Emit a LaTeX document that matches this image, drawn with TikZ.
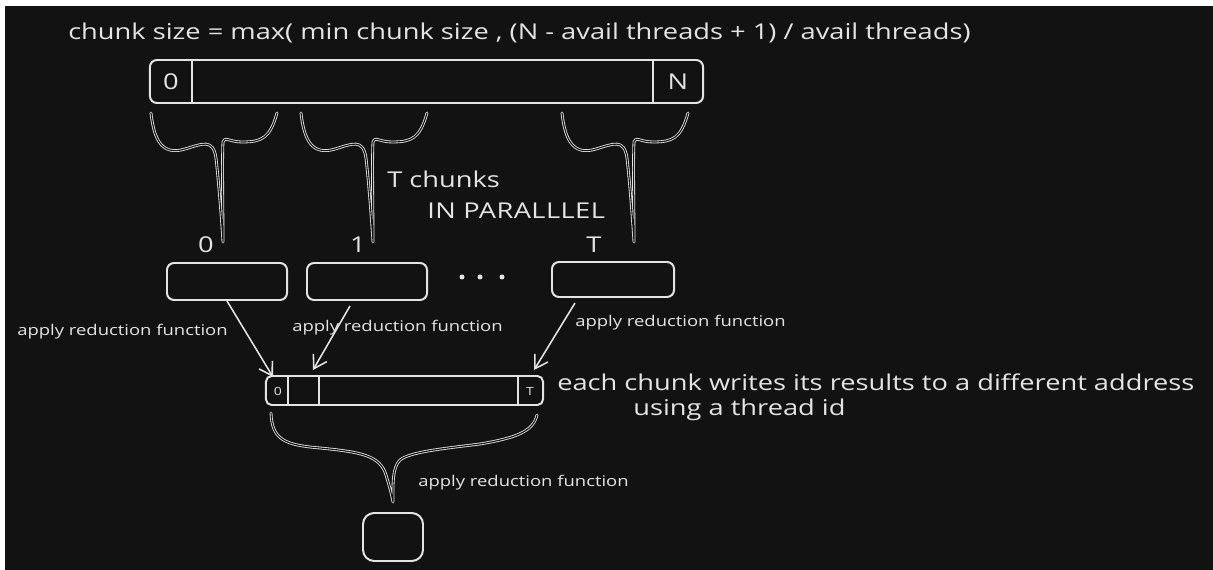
\documentclass[tikz,border=0pt]{standalone}
\usepackage{fontspec}
\setmainfont{Open Sans}[FakeStretch=1.25]
\usetikzlibrary{arrows.meta,calc,positioning}
\definecolor{board}{RGB}{18,18,18}
\definecolor{chalk}{RGB}{228,228,228}
\tikzset{
  cell/.style={draw=chalk, line width=1.4pt, rounded corners=5pt, inner sep=0pt},
  tee/.style={draw=chalk, line width=0.6pt, double=board, double distance=0.8pt, line cap=round, line join=round},
  feed/.style={draw=chalk, line width=1.1pt, -{Straight Barb[length=9pt,width=11pt]}},
  note/.style={text=chalk, anchor=base west, inner sep=0pt},
  tiny/.style={note, font=\fontsize{10.5}{12}\selectfont}
}

\begin{document}
\begin{tikzpicture}[x=0.025cm, y=-0.025cm, font=\fontsize{15.5}{18}\selectfont]
  % sheet, thin white edge at top and left
  \fill[white] (0,0) rectangle (1213,570);
  \fill[board] (5,6) rectangle (1213,570);
  \useasboundingbox (0,0) rectangle (1213,570);

  % formula
  \node[note] (title) at (68,40) {chunk size = max( min chunk size , (N - avail threads + 1) / avail threads)};

  % input array
  \node[cell, minimum width=13.825cm, minimum height=1.075cm] (arr) at (426.5,81.5) {};
  \draw[chalk, line width=1pt] (192,60) -- (192,103) (653,60) -- (653,103);
  \node[text=chalk] (arr0) at (171,82) {0};
  \node[text=chalk] (arrN) at (678,82) {N};

  % braces splitting the array
  \foreach \s in {0,150,411}
    \draw[tee, shift={(\s,0)}] (151,113) .. controls (154,140) and (162,156) .. (185,149)
      .. controls (202,144) and (213,138) .. (216,158)
      .. controls (219,185) and (222,225) .. (223,242)
      .. controls (223,210) and (222,160) .. (223,142)
      .. controls (224,136) and (230,142) .. (242,142)
      .. controls (262,142) and (270,138) .. (277,113);
  \node[note] (tchunks) at (387,188) {T chunks};
  \node[note] (par) at (427,219) {\addfontfeatures{LetterSpace=2}IN PARALLLEL};

  % chunks
  \node[text=chalk] (n0) at (206,245) {0};
  \node[text=chalk] (n1) at (358,245) {1};
  \node[text=chalk] (nT) at (594,245) {T};
  \node[cell, minimum width=3cm, minimum height=0.925cm] (c0) at (227,281.5) {};
  \node[cell, minimum width=3cm, minimum height=0.925cm] (c1) at (367,281.5) {};
  \node[cell, minimum width=3.05cm, minimum height=0.875cm] (cT) at (613,279.5) {};
  \foreach \dx in {462,480,502}
    \fill[chalk] (\dx,277) circle (2.5);

  % partial results
  \node[cell, rounded corners=4pt, minimum width=6.925cm, minimum height=0.725cm] (res) at (404.5,390.5) {};
  \draw[chalk, line width=1pt] (288,376) -- (288,405) (319,376) -- (319,405) (518,376) -- (518,405);
  \node[tiny, anchor=center, font=\fontsize{8}{9}\selectfont] (res0) at (278,391) {0};
  \node[tiny, anchor=center, font=\fontsize{8}{9}\selectfont] (resT) at (530,391) {T};

  \coordinate (hit0) at (273,377);
  \coordinate (hit1) at (313,370);
  \coordinate (hitT) at (534,370);
  \draw[feed] (c0.south) -- (hit0);
  \draw[feed] ($(c1.south)+(-17,5)$) -- (hit1);
  \draw[feed] ($(cT.south)+(-38,5)$) -- (hitT);
  \node[tiny] (lab0) at (17,336) {apply reduction function};
  \node[tiny] (lab1) at (292,332) {apply reduction function};
  \node[tiny] (labT) at (575,327) {apply reduction function};

  \node[note] (each) at (557,391) {each chunk writes its results to a different address};
  \node[note] (tid) at (633,416) {using a thread id};

  % final reduction
  \draw[tee] (271,413) .. controls (272,440) and (285,445) .. (320,448)
    .. controls (360,452) and (380,455) .. (386,475)
    .. controls (390,488) and (392,496) .. (393,502)
    .. controls (393,485) and (392,468) .. (400,460)
    .. controls (410,452) and (440,449) .. (480,444)
    .. controls (515,438) and (533,432) .. (537,415);
  \node[tiny] (labS) at (418,487) {apply reduction function};
  \node[cell, rounded corners=8pt, minimum width=1.5cm, minimum height=1.2cm] (sum) at (393,537) {};
\end{tikzpicture}
\end{document}
